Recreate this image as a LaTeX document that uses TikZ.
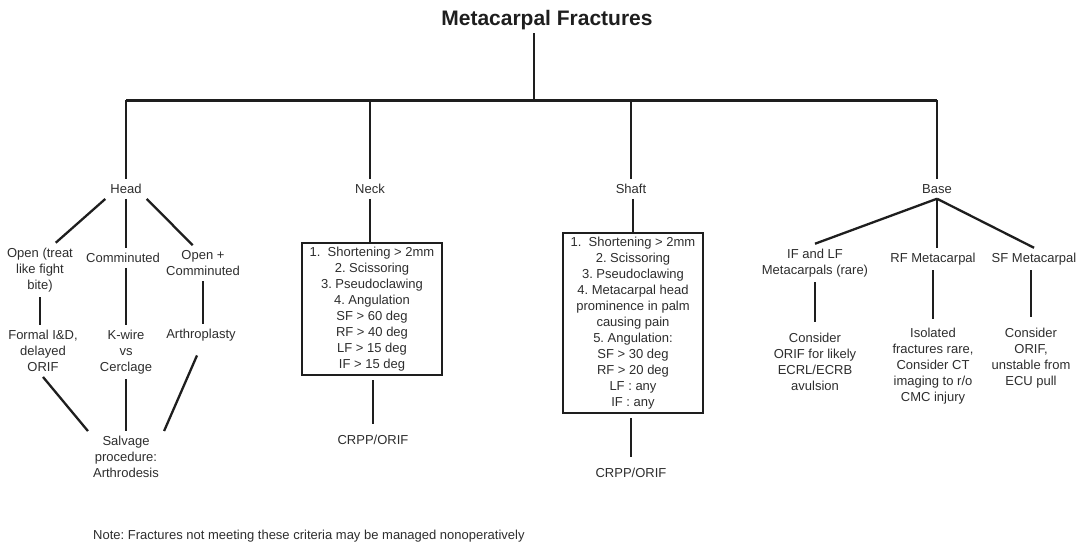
\documentclass[tikz,border=0pt]{standalone}
\usepackage{fontspec}
\setmainfont{Liberation Sans}
\usepackage{tikz}
\frenchspacing
\definecolor{ink}{RGB}{30,30,30}
\definecolor{inktext}{RGB}{45,45,45}
\tikzset{
  lbl/.style   = {align=center, text=inktext, inner sep=5pt,
                  font=\fontsize{13}{16}\selectfont},
  crit/.style  = {lbl, draw=ink, line width=2.2pt, minimum width=140pt,
                  inner xsep=6pt, inner ysep=4pt},
  link/.style  = {draw=ink, line width=2.3pt},
  drop/.style  = {draw=ink, line width=1.8pt},
  bar/.style   = {draw=ink, line width=3pt}
}

\begin{document}
\begin{tikzpicture}[x=1pt, y=-1pt,
    ttl/.style={font=\fontsize{21}{24}\selectfont\bfseries, text=ink},
    note/.style={font=\fontsize{13}{16}\selectfont, text=inktext, inner sep=0pt}
  ]
    \useasboundingbox (0,0) rectangle (1088,544);
    \node[ttl](title) at (547,20) {Metacarpal Fractures};
    \coordinate (hub) at (534,100);

    \node[lbl](head)  at (126,189) {Head};
    \node[lbl](neck)  at (370,189) {Neck};
    \node[lbl](shaft) at (631,189) {Shaft};
    \node[lbl](base)  at (937,189) {Base};

    \node[lbl](opent)    at (40,270)  {Open (treat\\like fight\\bite)};
    \node[lbl](comm)     at (123,258) {Comminuted};
    \node[lbl](opencomm) at (203,263) {Open +\\Comminuted};
    \node[lbl](formal)   at (43,351)  {Formal I\&D,\\delayed\\ORIF};
    \node[lbl](kwire)    at (126,352) {K-wire\\vs\\Cerclage};
    \node[lbl](arthro)   at (201,335) {Arthroplasty};
    \node[lbl](salvage)  at (126,457) {Salvage\\procedure:\\Arthrodesis};

    \node[crit](neckbox) at (372,309) {1.\ \ Shortening > 2mm\\2. Scissoring\\3. Pseudoclawing\\4. Angulation\\SF > 60 deg\\RF > 40 deg\\LF > 15 deg\\IF > 15 deg};
    \node[lbl](neckres) at (373,440) {CRPP/ORIF};

    \node[crit](shaftbox) at (633,323) {1.\ \ Shortening > 2mm\\2. Scissoring\\3. Pseudoclawing\\4. Metacarpal head\\prominence in palm\\causing pain\\5. Angulation:\\SF > 30 deg\\RF > 20 deg\\LF : any\\IF : any};
    \node[lbl](shaftres) at (631,473) {CRPP/ORIF};

    \node[lbl](iflf)    at (815,263)  {IF and LF\\Metacarpals (rare)};
    \node[lbl](rfmc)    at (933,259)  {RF Metacarpal};
    \node[lbl](sfmc)    at (1034,259) {SF Metacarpal};
    \node[lbl](iflfres) at (815,362)  {Consider\\ORIF for likely\\ECRL/ECRB\\avulsion};
    \node[lbl](rfres)   at (933,366)  {Isolated\\fractures rare,\\Consider CT\\imaging to r/o\\CMC injury};
    \node[lbl](sfres)   at (1031,358) {Consider\\ORIF,\\unstable from\\ECU pull};

    \node[note, anchor=west](note) at (93,536) {Note: Fractures not meeting these criteria may be managed nonoperatively};

    \draw[drop](title.south -| hub)--(hub);
    \draw[bar](head |- hub)--(base |- hub);
    \foreach \n in {head,neck,shaft,base} \draw[drop](\n |- hub)--(\n.north);

    \draw[link](head.south west)--(opent.60);
    \draw[link](head.south)--(head.south |- comm.north);
    \draw[link](head.south east)--(opencomm.120);
    \draw[link](opent.south)--(opent.south |- formal.north);
    \draw[link](kwire.north |- comm.south)--(kwire.north);
    \draw[link](arthro.north -| opencomm.south)--(opencomm.south);
    \draw[link](formal.south)--(salvage.north west);
    \draw[link](kwire)--(salvage);
    \draw[link, shorten <=10pt](arthro.south)--(salvage.north east);

    \draw[link](neck.south)--(neck.south |- neckbox.north);
    \draw[link, shorten <=4pt, shorten >=6pt](neckres.north |- neckbox.south)--(neckres.north);
    \draw[link](shaftbox.north |- shaft.south)--(shaftbox.north);
    \draw[link, shorten <=4pt, shorten >=6pt](shaftres.north |- shaftbox.south)--(shaftres.north);

    \draw[link](base.south)--(iflf.north);
    \draw[link](base.south)--(base.south |- rfmc.north);
    \draw[link](base.south)--(sfmc.north);
    \draw[link, shorten >=6pt](iflf)--(iflfres);
    \draw[link, shorten >=4pt](rfmc)--(rfres);
    \draw[link, shorten >=6pt](sfres.north |- sfmc.south)--(sfres.north);
  \end{tikzpicture}
\end{document}
